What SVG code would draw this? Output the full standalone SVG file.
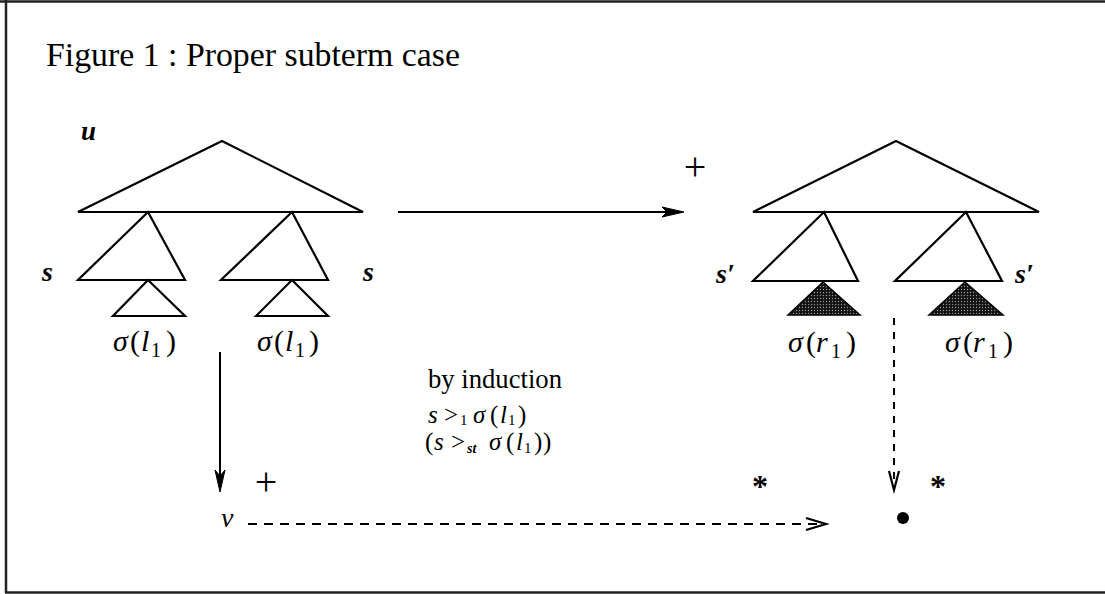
<svg xmlns="http://www.w3.org/2000/svg" width="1105" height="594" viewBox="0 0 1105 594">
<style>
.ln{fill:none;stroke:#000;stroke-width:2;stroke-linejoin:miter}
.tri{fill:#fff;stroke:#000;stroke-width:2.2;stroke-linejoin:miter}
.dark{fill:url(#stip);stroke:#000;stroke-width:1.5}
.dash{fill:none;stroke:#000;stroke-width:2}
.t{font-family:"Liberation Serif","Times New Roman",serif;fill:#000}
.it{font-style:italic}
.bi{font-style:italic;font-weight:bold}
.frame{fill:none;stroke:#222;stroke-width:2.5}
</style>
<defs>
<pattern id="stip" width="3" height="3" patternUnits="userSpaceOnUse">
<rect width="3" height="3" fill="#111"/>
<circle cx="1.5" cy="1.5" r="0.7" fill="#9a9a9a"/>
</pattern>
</defs>
<rect width="1105" height="594" fill="#fff"/>
<g id="frame">
<path class="frame" d="M0 1.5 H1105 M6 0 V593 M5 592.5 H1105"/>
</g>
<g id="title">
<text class="t" x="46" y="66" font-size="33" textLength="414" lengthAdjust="spacingAndGlyphs">Figure 1 : Proper subterm case</text>
</g>
<g id="tree-left">
<polygon class="tri" points="222,141 363,212 78,212"/>
<polygon class="tri" points="148,212 185,280 78,280"/>
<polygon class="tri" points="292,212 328,280 221,280"/>
<polygon class="tri" points="148,280 185,316 113,316"/>
<polygon class="tri" points="292,280 328,316 256,316"/>
<text class="t bi" x="81" y="140" font-size="27">u</text>
<text class="t bi" x="42" y="281" font-size="28">s</text>
<text class="t bi" x="363" y="281" font-size="28">s</text>
<text class="t" font-size="30" y="351"><tspan class="it" x="113">σ</tspan><tspan x="130">(</tspan><tspan class="it" x="141">l</tspan><tspan x="151" dy="6" font-size="20">1</tspan><tspan x="166" dy="-6">)</tspan></text>
<text class="t" font-size="30" y="351"><tspan class="it" x="257">σ</tspan><tspan x="274">(</tspan><tspan class="it" x="285">l</tspan><tspan x="295" dy="6" font-size="20">1</tspan><tspan x="309" dy="-6">)</tspan></text>
</g>
<g id="tree-right">
<polygon class="tri" points="896,141 1039,212 753,212"/>
<polygon class="tri" points="824,212 858,281 753,281"/>
<polygon class="tri" points="966,212 1002,281 895,281"/>
<polygon class="dark" points="823,282 860,315 788,315"/>
<polygon class="dark" points="965,282 1003,315 929,315"/>
<text class="t bi" x="716" y="283" font-size="28">s′</text>
<text class="t bi" x="1015" y="283" font-size="28">s′</text>
<text class="t" font-size="30" y="352"><tspan class="it" x="788">σ</tspan><tspan x="806">(</tspan><tspan class="it" x="816">r</tspan><tspan x="831" dy="6" font-size="20">1</tspan><tspan x="846" dy="-6">)</tspan></text>
<text class="t" font-size="30" y="352"><tspan class="it" x="945">σ</tspan><tspan x="963">(</tspan><tspan class="it" x="973">r</tspan><tspan x="988" dy="6" font-size="20">1</tspan><tspan x="1003" dy="-6">)</tspan></text>
</g>
<g id="node-v">
<text class="t it" x="221" y="527" font-size="28">v</text>
</g>
<g id="node-dot">
<circle cx="903" cy="518" r="6" fill="#000"/>
</g>
<g id="annotation">
<text class="t" x="428" y="388" font-size="27" textLength="134" lengthAdjust="spacingAndGlyphs">by induction</text>
<text class="t" font-size="25" y="423"><tspan class="it" x="428">s</tspan><tspan x="444">&gt;</tspan><tspan x="460" dy="2" font-size="15">1</tspan><tspan class="it" x="473" dy="-2">σ</tspan><tspan x="490">(</tspan><tspan class="it" x="500">l</tspan><tspan x="508" dy="2" font-size="15">1</tspan><tspan x="518" dy="-2">)</tspan></text>
<text class="t" font-size="25" y="450"><tspan x="425">(</tspan><tspan class="it" x="434">s</tspan><tspan x="451">&gt;</tspan><tspan class="bi" x="467" dy="3" font-size="14">st</tspan><tspan class="it" x="489" dy="-3">σ</tspan><tspan x="506">(</tspan><tspan class="it" x="516">l</tspan><tspan x="524" dy="3" font-size="15">1</tspan><tspan x="534" dy="-3">)</tspan><tspan x="543">)</tspan></text>
</g>
<g id="connectors">
<line class="ln" x1="398" y1="212" x2="680" y2="212"/>
<path d="M662 207 L684 212 L662 217 L667 212 Z" fill="#000" stroke="#000" stroke-width="1"/>
<text class="t" x="695" y="180" font-size="40" text-anchor="middle">+</text>
<line class="ln" x1="220" y1="352" x2="220" y2="488"/>
<path d="M215 470 L220 492 L225 470 L220 476 Z" fill="#000" stroke="#000" stroke-width="1"/>
<text class="t" x="266" y="495" font-size="40" text-anchor="middle">+</text>
<line class="dash" x1="248" y1="524" x2="818" y2="524" stroke-dasharray="9 7"/>
<path d="M806 518 L826 524 L806 530" fill="none" stroke="#000" stroke-width="2.2"/>
<text class="t" x="760" y="497" font-size="32" font-weight="bold" text-anchor="middle">*</text>
<line class="dash" x1="894" y1="318" x2="894" y2="486" stroke-dasharray="7 7"/>
<path d="M889 471 L894 490 L899 471" fill="none" stroke="#000" stroke-width="2.2"/>
<text class="t" x="938" y="497" font-size="32" font-weight="bold" text-anchor="middle">*</text>
</g>
</svg>
